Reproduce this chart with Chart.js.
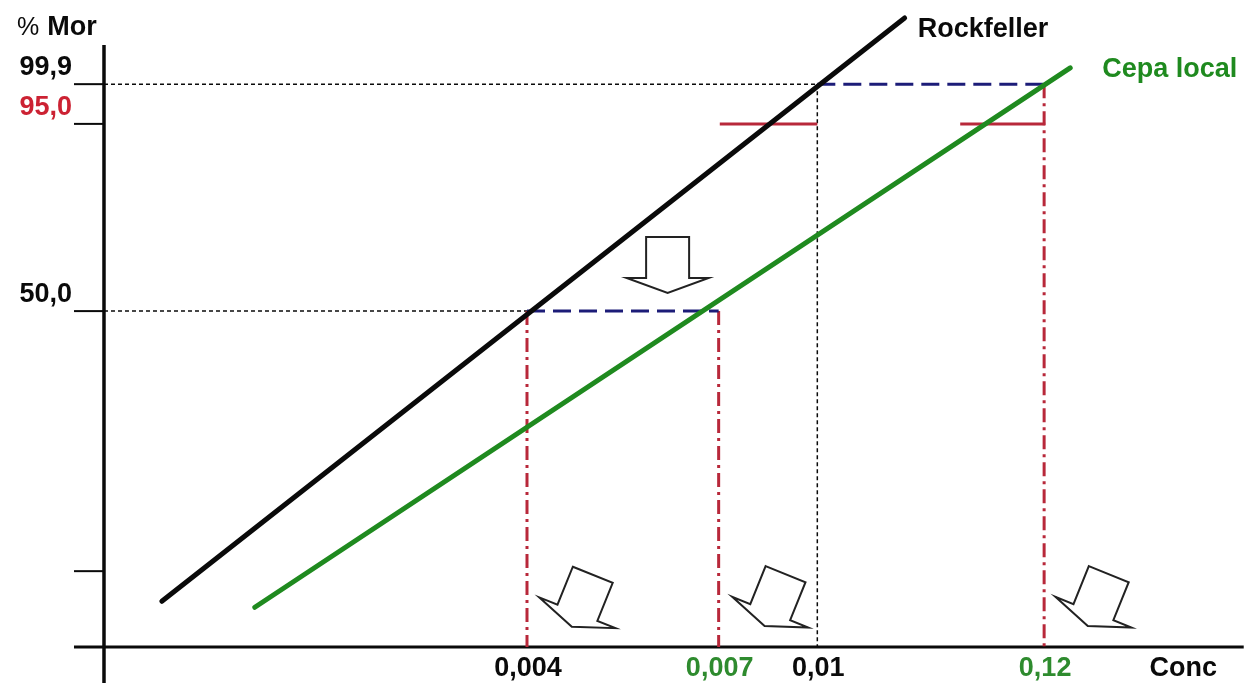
<!DOCTYPE html>
<html>
<head>
<meta charset="utf-8">
<script src="https://cdn.jsdelivr.net/npm/chart.js@4.4.1/dist/chart.umd.min.js"></script>
<style>
  html, body { margin: 0; padding: 0; background: #fff; }
  #wrap { width: 1252px; height: 683px; }
</style>
</head>
<body>
<div id="wrap"><canvas id="chart"></canvas></div>
<script>
// ================== DATA (schematic units: x 0-100 along Conc axis, y 0-100 along % Mor axis) ==================
const xTickVals = [37.3, 54.2, 62.9, 82.9];
const xTickLabels = ['0,004', '0,007', '0,01', '0,12'];

const yTickVals = [93.5, 86.9, 55.8, 12.6, 0];
const yTickLabels = ['99,9', '95,0', '50,0', '', ''];

// lineas de regresion
const rockX = [5.1, 70.6];
const rockY = [7.6, 104.5];
const cepaX = [13.3, 85.2];
const cepaY = [6.6, 96.2];

// segmento CL95 (rojo) sobre cada cepa
const cl95LeftX = [54.3, 62.9];
const cl95RightX = [75.5, 83.0];

// flechas: posicion (centro superior del cuerpo) y giro en grados
const arrowX = [49.7, 43.1, 60.1, 88.6];
const arrowY = [68.1, 12.0, 12.1, 12.1];
const arrowRot = [0, 22, 22, 22];

// ================== COLORES ==================
const BLACK = '#0a0a0a';
const GREEN = '#1f8a1f';
const RED = '#b8283a';
const NAVY = '#1c1c78';
const labelColors = { '0,004': BLACK, '0,007': '#2e8b2e', '0,01': BLACK, '0,12': '#2e8b2e',
                      '99,9': BLACK, '95,0': '#cc2233', '50,0': BLACK };

const FONT = '"Liberation Sans", Arial, sans-serif';
const BOLD = 'bold 27px ' + FONT;

function pts(xs, ys) {
  return xs.map((x, i) => ({ x: x, y: ys[i] }));
}

const lv50 = yTickVals[2];
const lv999 = yTickVals[0];
const lv95 = yTickVals[1];

// ================== DATASETS ==================
const datasets = [
  { data: pts(rockX, rockY), borderColor: BLACK, borderWidth: 5, borderCapStyle: 'round' },
  { data: pts(cepaX, cepaY), borderColor: GREEN, borderWidth: 5, borderCapStyle: 'round' },
  // CL95
  { data: pts(cl95LeftX, [lv95, lv95]), borderColor: RED, borderWidth: 3 },
  { data: pts(cl95RightX, [lv95, lv95]), borderColor: RED, borderWidth: 3 },
  // azul discontinua
  { data: pts([xTickVals[0], xTickVals[1]], [lv50, lv50]), borderColor: NAVY, borderWidth: 3, borderDash: [18, 8] },
  { data: pts([xTickVals[2], xTickVals[3]], [lv999, lv999]), borderColor: NAVY, borderWidth: 3, borderDash: [18, 8] },
  // rojo raya-punto
  { data: pts([xTickVals[0], xTickVals[0]], [lv50, 0]), borderColor: RED, borderWidth: 3, borderDash: [14, 5, 3, 5] },
  { data: pts([xTickVals[1], xTickVals[1]], [lv50, 0]), borderColor: RED, borderWidth: 3, borderDash: [14, 5, 3, 5] },
  { data: pts([xTickVals[3], xTickVals[3]], [lv999, 0]), borderColor: RED, borderWidth: 3, borderDash: [14, 5, 3, 5] },
  // punteado negro
  { data: pts([0, xTickVals[2]], [lv999, lv999]), borderColor: BLACK, borderWidth: 1.5, borderDash: [4, 3] },
  { data: pts([0, xTickVals[0]], [lv50, lv50]), borderColor: BLACK, borderWidth: 1.5, borderDash: [4, 3] },
  { data: pts([xTickVals[2], xTickVals[2]], [lv999, 0]), borderColor: BLACK, borderWidth: 1.5, borderDash: [4, 3] }
];
datasets.forEach(d => { d.pointRadius = 0; d.fill = false; d.tension = 0; });

// ================== EJES, TEXTOS Y FLECHAS ==================
const axesPlugin = {
  id: 'axesPlugin',
  beforeDatasetsDraw(chart) {
    const ctx = chart.ctx;
    const xs = chart.scales.x, ys = chart.scales.y;
    const x0 = xs.getPixelForValue(0);
    const y0 = ys.getPixelForValue(0);
    ctx.save();
    ctx.strokeStyle = BLACK;
    ctx.lineCap = 'butt';
    // eje Y
    ctx.lineWidth = 3.5;
    ctx.beginPath();
    ctx.moveTo(x0, ys.getPixelForValue(100));
    ctx.lineTo(x0, ys.getPixelForValue(-6));
    ctx.stroke();
    // eje X
    ctx.lineWidth = 3;
    ctx.beginPath();
    ctx.moveTo(x0 - 30, y0);
    ctx.lineTo(xs.getPixelForValue(100.5), y0);
    ctx.stroke();
    // marcas eje Y
    ctx.lineWidth = 2;
    yTickVals.forEach(v => {
      const py = ys.getPixelForValue(v);
      ctx.beginPath();
      ctx.moveTo(x0 - 30, py);
      ctx.lineTo(x0, py);
      ctx.stroke();
    });
    ctx.restore();
  },
  afterDatasetsDraw(chart) {
    const ctx = chart.ctx;
    const xs = chart.scales.x, ys = chart.scales.y;
    ctx.save();
    // flechas huecas
    arrowX.forEach((ax, i) => {
      const px = xs.getPixelForValue(ax);
      const py = ys.getPixelForValue(arrowY[i]);
      ctx.save();
      ctx.translate(px, py);
      ctx.rotate(arrowRot[i] * Math.PI / 180);
      ctx.beginPath();
      ctx.moveTo(-21.5, 0);
      ctx.lineTo(21.5, 0);
      ctx.lineTo(21.5, 41);
      ctx.lineTo(41, 41);
      ctx.lineTo(0, 56);
      ctx.lineTo(-41, 41);
      ctx.lineTo(-21.5, 41);
      ctx.closePath();
      ctx.fillStyle = '#ffffff';
      ctx.fill();
      ctx.strokeStyle = '#222222';
      ctx.lineWidth = 2;
      ctx.lineJoin = 'miter';
      ctx.stroke();
      ctx.restore();
    });
    ctx.restore();
  },
  afterDraw(chart) {
    const ctx = chart.ctx;
    const xs = chart.scales.x, ys = chart.scales.y;
    const x0 = xs.getPixelForValue(0);
    const y0 = ys.getPixelForValue(0);
    ctx.save();
    ctx.font = BOLD;
    ctx.textBaseline = 'alphabetic';

    // etiquetas eje Y (encima de cada marca)
    ctx.textAlign = 'right';
    yTickVals.forEach((v, i) => {
      if (!yTickLabels[i]) return;
      ctx.fillStyle = labelColors[yTickLabels[i]] || BLACK;
      ctx.fillText(yTickLabels[i], x0 - 32, ys.getPixelForValue(v) - 9);
    });

    // etiquetas eje X
    ctx.textAlign = 'center';
    xTickVals.forEach((v, i) => {
      ctx.fillStyle = labelColors[xTickLabels[i]] || BLACK;
      ctx.fillText(xTickLabels[i], xs.getPixelForValue(v) + 1, y0 + 29);
    });

    // titulos de ejes
    ctx.fillStyle = BLACK;
    ctx.textAlign = 'left';
    ctx.fillText('Conc', xs.getPixelForValue(92.2), y0 + 29);
    ctx.font = '25px ' + FONT;
    ctx.fillText('%', x0 - 87, ys.getPixelForValue(100) - 10);
    const pw = ctx.measureText('% ').width;
    ctx.font = BOLD;
    ctx.fillText('Mor', x0 - 86 + pw, ys.getPixelForValue(100) - 10);

    // nombres de las cepas junto al extremo de cada linea
    ctx.fillText('Rockfeller', xs.getPixelForValue(rockX[1]) + 13, ys.getPixelForValue(rockY[1]) + 19);
    ctx.fillStyle = GREEN;
    ctx.fillText('Cepa local', xs.getPixelForValue(cepaX[1]) + 32, ys.getPixelForValue(cepaY[1]) + 9);
    ctx.restore();
  }
};

// ================== CHART ==================
new Chart(document.getElementById('chart').getContext('2d'), {
  type: 'line',
  data: { datasets: datasets },
  options: {
    responsive: true,
    maintainAspectRatio: false,
    animation: false,
    layout: { padding: 0 },
    plugins: { legend: { display: false }, tooltip: { enabled: false } },
    scales: {
      x: { type: 'linear', display: false, min: -9.17, max: 101.23 },
      y: { type: 'linear', display: false, min: -5.98, max: 107.48 }
    }
  },
  plugins: [axesPlugin]
});
</script>
</body>
</html>
